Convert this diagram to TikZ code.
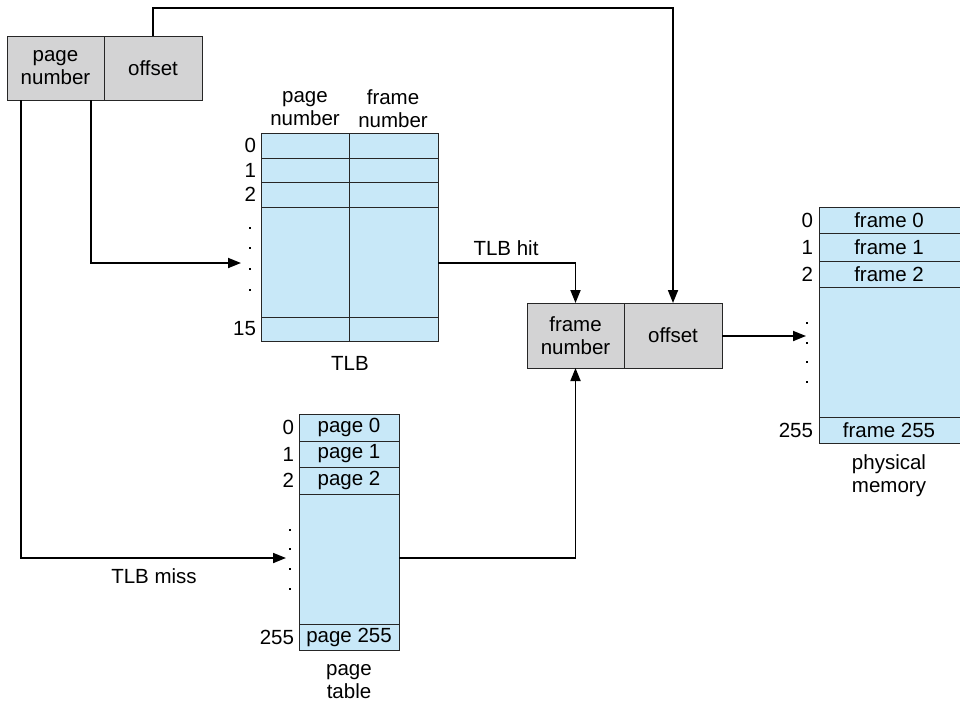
\documentclass[tikz,border=0pt]{standalone}
\usepackage{fontspec}
\setmainfont{Liberation Sans}
\usetikzlibrary{arrows.meta}
\definecolor{cellblue}{RGB}{200,232,248}
\definecolor{boxgray}{RGB}{211,211,212}
\begin{document}
\begin{tikzpicture}[x=1pt,y=-1pt,
  every node/.style={font=\fontsize{20.5}{23}\selectfont, inner sep=0pt, outer sep=0pt},
  gbox/.style={draw=black!85, line width=0.9pt, fill=boxgray, anchor=north west, align=center},
  bcell/.style={draw=black!85, line width=0.9pt, fill=cellblue, anchor=north west, align=center},
  idx/.style={anchor=east},
  lbl/.style={align=center},
  arr/.style={line width=1.8pt, -{Triangle[length=13pt,width=10pt]}},
  ln/.style={line width=1.8pt},
  dotm/.style={fill=black, minimum size=2.6pt}
]
\useasboundingbox (0,0) rectangle (960,705);

% logical address
\node[gbox, minimum width=97pt, minimum height=64pt] (la-pn) at (7,36) {page\\number};
\node[gbox, minimum width=98pt, minimum height=64pt] (la-off) at (104,36) {offset};

% TLB
\node[bcell, minimum width=177pt, minimum height=208pt] (tlb) at (261,133) {};
\foreach \y in {158,182,207,317} \draw[line width=0.9pt, black!85] (261,\y) -- (438,\y);
\draw[line width=0.9pt, black!85] (349,133) -- (349,341);
\node[lbl] (tlb-h1) at (305,109) {page\\number};
\node[lbl] (tlb-h2) at (393,109) {frame\\number};
\node[idx] (tlb-i0) at (256,145) {0};
\node[idx] (tlb-i1) at (256,170) {1};
\node[idx] (tlb-i2) at (256,194) {2};
\node[idx] (tlb-i15) at (256,329) {15};
\foreach \y [count=\i] in {228,248,269,290} \fill (248.7,\y-1.3) rectangle ++(2.6,2.6);
\node (tlb-lbl) at (350,363) {TLB};

% page table
\node[bcell, minimum width=100pt, minimum height=236pt] (pt) at (299,414) {};
\foreach \y in {441,467,494,624} \draw[line width=0.9pt, black!85] (299,\y) -- (399,\y);
\node (pt-0) at (349,427.5) {page 0};
\node (pt-1) at (349,454) {page 1};
\node (pt-2) at (349,480.5) {page 2};
\node (pt-255) at (349,637) {page 255};
\node[idx] (pt-i0) at (294,427.5) {0};
\node[idx] (pt-i1) at (294,454) {1};
\node[idx] (pt-i2) at (294,480.5) {2};
\node[idx] (pt-i255) at (294,637) {255};
\foreach \y in {530,549,569,589} \fill (288.7,\y-1.3) rectangle ++(2.6,2.6);
\node[lbl] (pt-lbl) at (349,682) {page\\table};

% physical address
\node[gbox, minimum width=97pt, minimum height=65pt] (pa-fn) at (527,303) {frame\\number};
\node[gbox, minimum width=98pt, minimum height=65pt] (pa-off) at (624,303) {offset};

% physical memory
\node[bcell, minimum width=141pt, minimum height=236pt] (pm) at (819,207) {};
\foreach \y in {233,261,287,417} \draw[line width=0.9pt, black!85] (819,\y) -- (960,\y);
\node (pm-0) at (889,220) {frame 0};
\node (pm-1) at (889,247) {frame 1};
\node (pm-2) at (889,274) {frame 2};
\node (pm-255) at (889,430) {frame 255};
\node[idx] (pm-i0) at (813,220) {0};
\node[idx] (pm-i1) at (813,247) {1};
\node[idx] (pm-i2) at (813,274) {2};
\node[idx] (pm-i255) at (813,430) {255};
\foreach \y in {323,343,362,382} \fill (805.7,\y-1.3) rectangle ++(2.6,2.6);
\node[lbl] (pm-lbl) at (889,476) {physical\\memory};

% connectors
\coordinate (tlb-in) at (241,263);
\coordinate (pt-in) at (286,558);
\coordinate (pm-in) at (806,336);
\coordinate (top) at (153,8);
\draw[arr] ([xshift=14pt]la-pn.south west) |- (pt-in);
\draw[arr] ([xshift=84pt]la-pn.south west) |- (tlb-in);
\draw[arr] (la-off.north) |- (top) -| (pa-off.north);
\draw[arr] (tlb.east |- tlb-in) -| (pa-fn.north);
\draw[arr] (pt.east |- pt-in) -| (pa-fn.south);
\draw[arr] (pa-off.east |- pm-in) -- (pm-in);
\node (hit) at (506,248) {TLB hit};
\node (miss) at (154,576) {TLB miss};
\end{tikzpicture}
\end{document}
